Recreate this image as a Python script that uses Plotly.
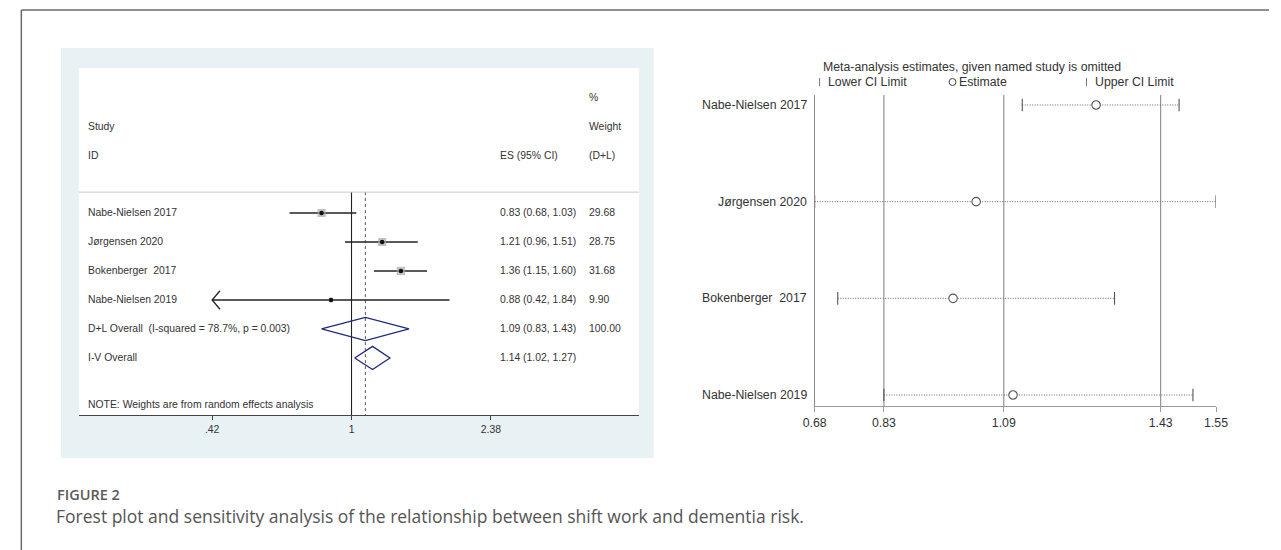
import plotly.graph_objects as go

W, H = 1281, 550
NB = "\u00a0"

# ---------------- Left panel: forest plot data ----------------
studies = ["Nabe-Nielsen 2017", "Jørgensen 2020", "Bokenberger" + NB + NB + "2017", "Nabe-Nielsen 2019"]
es = [0.83, 1.21, 1.36, 0.88]
ci_lo = [0.68, 0.96, 1.15, 0.42]
ci_hi = [1.03, 1.51, 1.60, 1.84]
weights = [29.68, 28.75, 31.68, 9.90]
pooled_labels = ["D+L Overall" + NB + NB + "(I-squared = 78.7%, p = 0.003)", "I-V Overall"]
pooled_es = [1.09, 1.14]
pooled_lo = [0.83, 1.02]
pooled_hi = [1.43, 1.27]
pooled_w = ["100.00", ""]
left_tickvals = [0.42, 1, 2.38]
left_ticktext = [".42", "1", "2.38"]

# ---------------- Right panel: sensitivity analysis data ----------------
omitted = ["Nabe-Nielsen 2017", "Jørgensen 2020", "Bokenberger" + NB + NB + "2017", "Nabe-Nielsen 2019"]
loo_est = [1.29, 1.03, 0.98, 1.11]
loo_lo = [1.13, 0.68, 0.73, 0.83]
loo_hi = [1.47, 1.55, 1.33, 1.50]
overall_ref = [0.83, 1.09, 1.43]
right_tickvals = [0.68, 0.83, 1.09, 1.43, 1.55]


def px(x):
    return x / W


def py(y):
    return 1 - y / H


fig = go.Figure()

# ---------- layout geometry (left) ----------
L_TOP, L_BOT = -5.0, 6.966          # y range in row units (reversed)
HDR = -0.72                          # header rule
ROW_H = 0.4                          # diamond half height
txt_font = dict(family="Liberation Sans, Arial", size=10.4, color="#333333")

# null line & overall dashed line
fig.add_trace(go.Scatter(x=[1, 1], y=[HDR, L_BOT], mode="lines",
                         line=dict(color="#222222", width=1.1),
                         xaxis="x", yaxis="y", hoverinfo="skip"))
fig.add_trace(go.Scatter(x=[pooled_es[0]] * 2, y=[HDR, L_BOT], mode="lines",
                         line=dict(color="#555555", width=1, dash="3px,3px"),
                         xaxis="x", yaxis="y", hoverinfo="skip"))

n = len(studies)
for i in range(n):
    fig.add_trace(go.Scatter(x=[ci_lo[i], ci_hi[i]], y=[i, i], mode="lines",
                             line=dict(color="#222222", width=1.3),
                             xaxis="x", yaxis="y", hoverinfo="skip"))
    if ci_lo[i] <= left_tickvals[0]:
        fig.add_trace(go.Scatter(x=[ci_lo[i] * 1.05, ci_lo[i], ci_lo[i] * 1.05],
                                 y=[i - 0.32, i, i + 0.32], mode="lines",
                                 line=dict(color="#222222", width=1.3),
                                 xaxis="x", yaxis="y", hoverinfo="skip"))

fig.add_trace(go.Scatter(x=es, y=list(range(n)), mode="markers",
                         marker=dict(symbol="square", color="#a8a8a8",
                                     size=[1.5 * w ** 0.5 for w in weights],
                                     line=dict(width=0)),
                         xaxis="x", yaxis="y", hoverinfo="skip"))
fig.add_trace(go.Scatter(x=es, y=list(range(n)), mode="markers",
                         marker=dict(symbol="circle", color="#111111", size=4.5),
                         xaxis="x", yaxis="y", hoverinfo="skip"))

for j in range(len(pooled_es)):
    r = n + j
    fig.add_trace(go.Scatter(
        x=[pooled_lo[j], pooled_es[j], pooled_hi[j], pooled_es[j], pooled_lo[j]],
        y=[r, r - ROW_H, r, r + ROW_H, r], mode="lines",
        line=dict(color="#1f2a78", width=1.3),
        xaxis="x", yaxis="y", hoverinfo="skip"))

# ---------- left texts ----------
ann = []
X_LAB, X_ES, X_W = px(75), px(495), px(586)
for yv, t in [(-3, "Study"), (-2, "ID")]:
    ann.append(dict(x=X_LAB, y=yv, text=t))
ann.append(dict(x=X_ES, y=-2, text="ES (95% CI)"))
for yv, t in [(-4, "%"), (-3, "Weight"), (-2, "(D+L)")]:
    ann.append(dict(x=X_W, y=yv, text=t))
for i in range(n):
    ann.append(dict(x=X_LAB, y=i, text=studies[i]))
    ann.append(dict(x=X_ES, y=i, text=f"{es[i]:.2f} ({ci_lo[i]:.2f}, {ci_hi[i]:.2f})"))
    ann.append(dict(x=X_W, y=i, text=f"{weights[i]:.2f}"))
for j in range(len(pooled_es)):
    r = n + j
    ann.append(dict(x=X_LAB, y=r, text=pooled_labels[j]))
    ann.append(dict(x=X_ES, y=r, text=f"{pooled_es[j]:.2f} ({pooled_lo[j]:.2f}, {pooled_hi[j]:.2f})"))
    if pooled_w[j]:
        ann.append(dict(x=X_W, y=r, text=pooled_w[j]))
ann.append(dict(x=X_LAB, y=6.6, text="NOTE: Weights are from random effects analysis"))
annotations = []
for a in ann:
    a.update(xref="paper", yref="y", xanchor="left", yanchor="middle",
             showarrow=False, font=txt_font)
    annotations.append(a)

# ---------- right panel ----------
R_TOP, R_BOT = 0.8966, 4.1138
rows = [1 + i for i in range(len(omitted))]
grey = "#8a8a8a"
for v in overall_ref:
    fig.add_trace(go.Scatter(x=[v, v], y=[R_TOP, R_BOT], mode="lines",
                             line=dict(color=grey, width=1.1),
                             xaxis="x2", yaxis="y2", hoverinfo="skip"))
for i, r in enumerate(rows):
    fig.add_trace(go.Scatter(x=[loo_lo[i], loo_hi[i]], y=[r, r], mode="lines",
                             line=dict(color="#666666", width=1, dash="1px,1.5px"),
                             xaxis="x2", yaxis="y2", hoverinfo="skip"))
fig.add_trace(go.Scatter(x=loo_lo + loo_hi, y=rows + rows, mode="markers",
                         marker=dict(symbol="line-ns", size=9, color="#555555",
                                     line=dict(color="#555555", width=1.1)),
                         xaxis="x2", yaxis="y2", hoverinfo="skip"))
fig.add_trace(go.Scatter(x=loo_est, y=rows, mode="markers",
                         marker=dict(symbol="circle", size=8.5, color="white",
                                     line=dict(color="#555555", width=1.1)),
                         xaxis="x2", yaxis="y2", hoverinfo="skip"))

r_font = dict(family="Liberation Sans, Arial", size=12.3, color="#333333")
for i, r in enumerate(rows):
    annotations.append(dict(x=px(812), y=r, xref="paper", yref="y2",
                            xanchor="right", yanchor="middle", text=omitted[i],
                            showarrow=False, font=r_font))
annotations.append(dict(x=px(824), y=py(67), xref="paper", yref="paper",
                        xanchor="left", yanchor="middle", showarrow=False,
                        text="Meta-analysis estimates, given named study is omitted",
                        font=r_font))
for x0, t in [(830, "Lower CI Limit"), (963, "Estimate"), (1102, "Upper CI Limit")]:
    annotations.append(dict(x=px(x0), y=py(82), xref="paper", yref="paper",
                            xanchor="left", yanchor="middle", showarrow=False,
                            text=t, font=r_font))

# caption
annotations.append(dict(x=px(44), y=py(494), xref="paper", yref="paper",
                        xanchor="left", yanchor="middle", showarrow=False,
                        text="FIGURE 2",
                        font=dict(family="Open Sans", size=14.5, color="#5a5a5a", weight=600)))
annotations.append(dict(x=px(43), y=py(516), xref="paper", yref="paper",
                        xanchor="left", yanchor="middle", showarrow=False,
                        text="Forest plot and sensitivity analysis of the relationship between shift work and dementia risk.",
                        font=dict(family="Open Sans", size=17.5, color="#555555")))

shapes = [
    # outer frame
    dict(type="line", xref="paper", yref="paper", x0=px(9.5), x1=px(9.5), y0=0, y1=py(10),
         line=dict(color="#6a6a6a", width=1.5)),
    dict(type="line", xref="paper", yref="paper", x0=px(9.5), x1=1, y0=py(10), y1=py(10),
         line=dict(color="#6a6a6a", width=1.5)),
    # left panel background and white plot region
    dict(type="rect", xref="paper", yref="paper", x0=px(50), x1=px(654), y0=py(458), y1=py(48),
         fillcolor="#e8f1f3", line=dict(width=0), layer="below"),
    dict(type="rect", xref="paper", yref="paper", x0=px(68), x1=px(639), y0=py(415), y1=py(68),
         fillcolor="white", line=dict(width=0), layer="below"),
    # header rule
    dict(type="line", xref="paper", yref="y", x0=px(68), x1=px(639), y0=HDR, y1=HDR,
         line=dict(color="#c9c9c9", width=1)),
    # legend symbols (right)
    dict(type="line", xref="paper", yref="paper", x0=px(823), x1=px(823), y0=py(86), y1=py(78),
         line=dict(color="#777777", width=1)),
    dict(type="line", xref="paper", yref="paper", x0=px(1095), x1=px(1095), y0=py(86), y1=py(78),
         line=dict(color="#777777", width=1)),
    dict(type="circle", xref="paper", yref="paper", x0=px(955), x1=px(962), y0=py(85.5), y1=py(78.5),
         line=dict(color="#444444", width=1)),
]

fig.update_layout(
    width=W, height=H, margin=dict(l=0, r=0, t=0, b=0),
    paper_bgcolor="white", plot_bgcolor="rgba(0,0,0,0)", showlegend=False,
    annotations=annotations, shapes=shapes,
    xaxis=dict(type="log", domain=[px(68), px(639)], range=[-0.7373, 0.7771],
               tickvals=left_tickvals, ticktext=left_ticktext,
               showline=True, linecolor="#444444", linewidth=1.1,
               ticks="outside", ticklen=4, tickcolor="#444444",
               tickfont=dict(family="Liberation Sans, Arial", size=10.4, color="#333333"),
               showgrid=False, zeroline=False, anchor="y", fixedrange=True),
    yaxis=dict(domain=[py(415), py(68)], range=[L_BOT, L_TOP], visible=False,
               showgrid=False, zeroline=False, anchor="x", fixedrange=True),
    xaxis2=dict(domain=[px(818), px(1227)], range=[0.68, 1.55],
                tickvals=right_tickvals, ticktext=[f"{v:.2f}" for v in right_tickvals],
                showline=True, linecolor="#9a9a9a", linewidth=1.2,
                ticks="outside", ticklen=5, tickcolor="#9a9a9a",
                tickfont=r_font, showgrid=False, zeroline=False,
                anchor="y2", fixedrange=True),
    yaxis2=dict(domain=[py(406), py(95)], range=[R_BOT, R_TOP],
                showline=True, linecolor=grey, linewidth=1.1,
                showticklabels=False, ticks="", showgrid=False, zeroline=False,
                anchor="x2", fixedrange=True),
)

fig.write_html("out.html")
